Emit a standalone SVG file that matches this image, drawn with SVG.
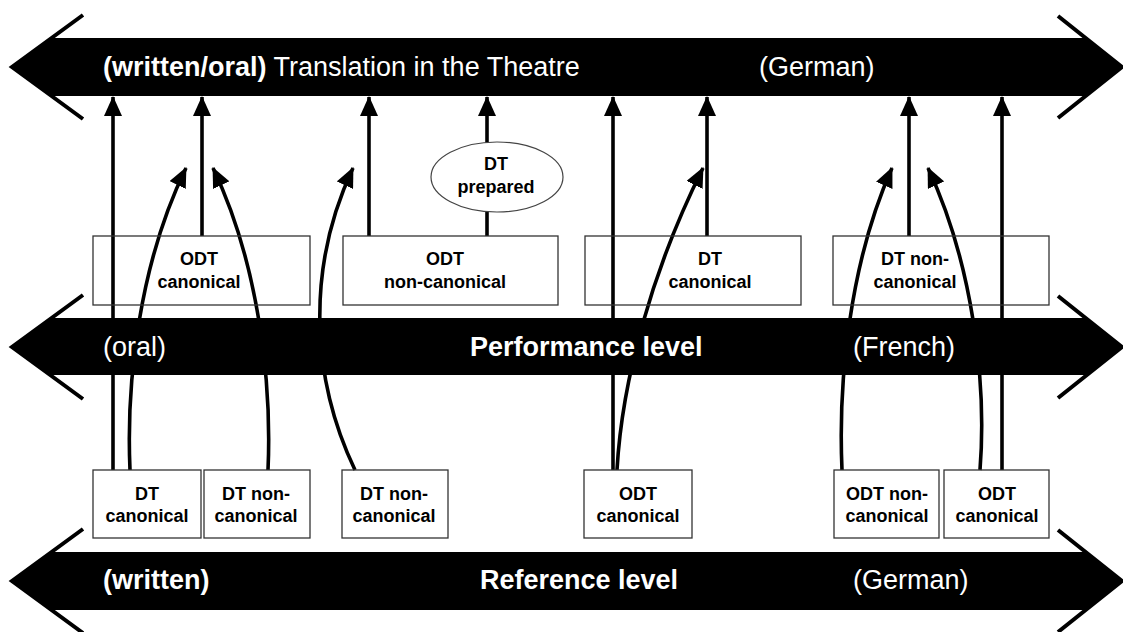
<svg xmlns="http://www.w3.org/2000/svg" width="1123" height="632" viewBox="0 0 1123 632">
<style>
.band{fill:#000}
.chev{fill:none;stroke:#000;stroke-width:4}
.bt{font-family:"Liberation Sans",Arial,sans-serif;font-size:27px;fill:#fff}
.b{font-weight:bold}
.box{fill:none;stroke:#333;stroke-width:1.3}
.ell{fill:#fff;stroke:#444;stroke-width:1.2}
.nt{font-family:"Liberation Sans",Arial,sans-serif;font-size:18px;font-weight:bold;fill:#000;text-anchor:middle}
.con{fill:none;stroke:#000;stroke-width:3.6}
.arr{marker-end:url(#ah)}
</style>
<defs>
<marker id="ah" markerUnits="userSpaceOnUse" markerWidth="20" markerHeight="18" viewBox="0 0 20 18" refX="19" refY="9" orient="auto">
<path d="M0,0 L20,9 L0,18 z" fill="#000"/>
</marker>
</defs>
<rect width="1123" height="632" fill="#fff"/>
<g id="connectors">
<path class="con arr" d="M113,470 V97"/>
<path class="con arr" d="M202,236 V97"/>
<path class="con arr" d="M369,236 V97"/>
<path class="con" d="M487,236 V212"/>
<path class="con arr" d="M487,143 V97"/>
<path class="con arr" d="M613,470 V97"/>
<path class="con arr" d="M707,236 V97"/>
<path class="con arr" d="M909,236 V97"/>
<path class="con arr" d="M1002,470 V97"/>
<path class="con arr" d="M130,470 C126,380 140,262 186,168"/>
<path class="con arr" d="M268,470 C272,380 258,262 213,168"/>
<path class="con arr" d="M355,470 C312,380 305,270 353,168"/>
<path class="con arr" d="M617,470 C622,380 652,270 703,168"/>
<path class="con arr" d="M842,470 C838,380 850,262 892,168"/>
<path class="con arr" d="M980,470 C987,380 972,262 928,168"/>
</g>
<g id="band-top">
<polygon class="band" points="12,67 52,38 1087,38 1122,67 1087,96 52,96"/>
<polyline class="chev" points="83,15 12,67 83,119"/>
<polyline class="chev" points="1058,16 1122,67 1058,118"/>
<text class="bt" x="103" y="76"><tspan class="b">(written/oral)</tspan> Translation in the Theatre</text>
<text class="bt" x="759" y="76">(German)</text>
</g>
<g id="band-performance">
<polygon class="band" points="12,347 51,318 1086,318 1122,347 1086,375 51,375"/>
<polyline class="chev" points="83,295 12,347 83,399"/>
<polyline class="chev" points="1058,296 1122,347 1058,398"/>
<text class="bt" x="103" y="356">(oral)</text>
<text class="bt b" x="470" y="356">Performance level</text>
<text class="bt" x="853" y="356">(French)</text>
</g>
<g id="band-reference">
<polygon class="band" points="12,581 52,552 1086,552 1122,581 1086,610 52,610"/>
<polyline class="chev" points="83,529 12,581 83,633"/>
<polyline class="chev" points="1058,530 1122,581 1058,632"/>
<text class="bt b" x="103" y="589">(written)</text>
<text class="bt b" x="480" y="589">Reference level</text>
<text class="bt" x="853" y="589">(German)</text>
</g>
<g id="m-odt-canonical">
<rect class="box" x="93" y="236" width="217" height="69"/>
<text class="nt" x="199" y="265">ODT</text>
<text class="nt" x="199" y="288">canonical</text>
</g>
<g id="m-odt-noncanonical">
<rect class="box" x="343" y="236" width="215" height="69"/>
<text class="nt" x="445" y="265">ODT</text>
<text class="nt" x="445" y="288">non-canonical</text>
</g>
<g id="m-dt-canonical">
<rect class="box" x="585" y="236" width="216" height="69"/>
<text class="nt" x="710" y="265">DT</text>
<text class="nt" x="710" y="288">canonical</text>
</g>
<g id="m-dt-noncanonical">
<rect class="box" x="833" y="236" width="216" height="69"/>
<text class="nt" x="915" y="265">DT non-</text>
<text class="nt" x="915" y="288">canonical</text>
</g>
<g id="dt-prepared">
<ellipse class="ell" cx="497" cy="177" rx="66" ry="35"/>
<text class="nt" x="496" y="170">DT</text>
<text class="nt" x="496" y="193">prepared</text>
</g>
<g id="b-dt-canonical">
<rect class="box" x="93" y="470" width="108" height="68"/>
<text class="nt" x="147" y="500">DT</text>
<text class="nt" x="147" y="522">canonical</text>
</g>
<g id="b-dt-noncanonical-1">
<rect class="box" x="204" y="470" width="106" height="68"/>
<text class="nt" x="256" y="500">DT non-</text>
<text class="nt" x="256" y="522">canonical</text>
</g>
<g id="b-dt-noncanonical-2">
<rect class="box" x="342" y="470" width="106" height="68"/>
<text class="nt" x="394" y="500">DT non-</text>
<text class="nt" x="394" y="522">canonical</text>
</g>
<g id="b-odt-canonical-1">
<rect class="box" x="584" y="470" width="108" height="68"/>
<text class="nt" x="638" y="500">ODT</text>
<text class="nt" x="638" y="522">canonical</text>
</g>
<g id="b-odt-noncanonical">
<rect class="box" x="834" y="470" width="105" height="68"/>
<text class="nt" x="887" y="500">ODT non-</text>
<text class="nt" x="887" y="522">canonical</text>
</g>
<g id="b-odt-canonical-2">
<rect class="box" x="944" y="470" width="105" height="68"/>
<text class="nt" x="997" y="500">ODT</text>
<text class="nt" x="997" y="522">canonical</text>
</g>
</svg>
